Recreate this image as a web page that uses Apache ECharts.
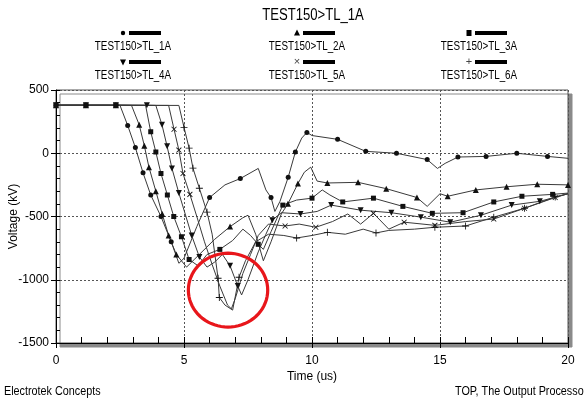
<!DOCTYPE html>
<html>
<head>
<meta charset="utf-8">
<script src="https://cdn.jsdelivr.net/npm/echarts@6/dist/echarts.min.js"></script>
<style>
  html, body { margin: 0; padding: 0; background: #fff; }
  #chart { width: 584px; height: 403px; }
</style>
</head>
<body>
<div id="chart"></div>
<script>
// tick labels
const xTicks = [0, 5, 10, 15, 20];
const yTicks = [-1500, -1000, -500, 0, 500];

const seriesNames = ['TEST150>TL_1A', 'TEST150>TL_2A', 'TEST150>TL_3A',
                     'TEST150>TL_4A', 'TEST150>TL_5A', 'TEST150>TL_6A'];

// [time (us), voltage (kV), marker?]
const curve1 = [
    [0, 380, 1], [1.17, 380, 1], [2.34, 380, 1], [2.5, 378, 0], [2.8, 220, 1], [3.1, 45, 1],
    [3.4, -155, 1], [3.7, -330, 1], [4.1, -500, 1], [4.5, -700, 1], [4.8, -870, 0],
    [5.0, -830, 0], [5.5, -580, 0], [6.0, -350, 1], [6.6, -250, 0], [7.2, -200, 1],
    [7.9, -120, 0], [8.2, -290, 0], [8.4, -350, 1], [8.55, -460, 0], [8.75, -380, 0],
    [9.07, -190, 1], [9.35, 10, 1], [9.6, 120, 0], [9.8, 165, 1], [10.0, 140, 0],
    [11.0, 110, 1], [12.1, 15, 1], [13.3, 0, 1], [14.5, -50, 1], [14.9, -120, 0],
    [15.2, -80, 0], [15.7, -30, 1], [16.8, -25, 1], [18.0, 0, 1], [19.2, -25, 1], [20, -40, 0]
];
const curve2 = [
    [0, 380, 1], [1.17, 380, 1], [2.34, 380, 1], [2.95, 378, 0], [3.25, 225, 1], [3.45, 60, 1],
    [3.63, -110, 1], [3.9, -300, 1], [4.15, -480, 1], [4.4, -650, 1], [4.7, -800, 1],
    [5.1, -900, 0], [5.4, -840, 0], [6.2, -680, 0], [6.8, -580, 1], [7.3, -510, 0],
    [7.5, -490, 0], [7.8, -640, 0], [8.1, -850, 0], [8.4, -700, 0], [8.8, -480, 0],
    [9.06, -400, 1], [9.45, -240, 1], [9.7, -150, 0], [9.95, -110, 0], [10.2, -220, 0],
    [10.6, -235, 1], [11.8, -230, 1], [12.9, -280, 1], [14.1, -350, 1], [14.5, -420, 0],
    [15.0, -320, 0], [15.3, -340, 1], [16.4, -290, 1], [17.6, -265, 1], [18.8, -245, 1], [20, -250, 1]
];
const curve3 = [
    [0, 380, 1], [1.17, 380, 1], [2.34, 380, 1], [3.5, 378, 0], [3.7, 170, 1], [3.9, 10, 1],
    [4.1, -160, 1], [4.35, -330, 1], [4.6, -500, 1], [4.9, -660, 1], [5.2, -840, 1],
    [5.55, -890, 0], [5.9, -800, 0], [6.4, -760, 1], [6.9, -690, 0], [7.3, -600, 0],
    [7.6, -650, 0], [7.9, -720, 1], [8.1, -760, 0], [8.4, -620, 0], [8.86, -410, 1],
    [9.4, -370, 0], [10.0, -355, 1], [10.4, -290, 0], [10.7, -330, 0], [11.2, -385, 1],
    [12.4, -355, 1], [13.55, -420, 1], [14.7, -475, 1], [15.9, -470, 1], [17.1, -385, 1],
    [18.2, -340, 1], [19.4, -325, 1], [20, -315, 0]
];
const curve4 = [
    [0, 380, 1], [1.17, 380, 1], [2.34, 380, 1], [3.55, 380, 1], [3.9, 378, 0], [4.14, 225, 1],
    [4.34, 55, 1], [4.53, -120, 1], [4.8, -315, 1], [5.3, -650, 1], [5.6, -820, 1],
    [5.9, -900, 0], [6.2, -860, 0], [6.5, -800, 0], [6.8, -890, 1], [7.1, -1050, 1],
    [7.25, -1120, 0], [7.5, -1000, 0], [7.9, -780, 0], [8.2, -640, 0], [8.45, -530, 1],
    [8.8, -470, 0], [9.55, -480, 1], [10.2, -460, 0], [10.75, -410, 1], [11.9, -450, 1],
    [13.1, -470, 1], [14.25, -505, 1], [15.4, -545, 1], [16.6, -490, 1], [17.8, -410, 1],
    [18.9, -380, 1], [20, -320, 0]
];
const curve5 = [
    [0, 380, 0], [4.4, 378, 0], [4.61, 190, 1], [4.8, 25, 1], [4.96, -160, 1], [5.23, -325, 1],
    [5.5, -500, 0], [5.8, -700, 0], [6.1, -880, 0], [6.4, -1050, 0], [6.7, -1200, 0],
    [6.85, -1230, 0], [7.0, -1150, 0], [7.3, -950, 0], [7.6, -800, 0], [7.9, -650, 0],
    [8.3, -560, 0], [8.95, -575, 1], [9.5, -560, 0], [10.15, -585, 1], [10.8, -540, 0],
    [11.4, -480, 0], [11.9, -560, 0], [12.4, -475, 1], [13.0, -600, 0], [13.6, -545, 1],
    [14.8, -570, 1], [16.0, -540, 0], [17.1, -520, 1], [18.3, -435, 1], [19.5, -350, 1], [20, -320, 0]
];
const curve6 = [
    [0, 380, 0], [4.8, 378, 0], [5.0, 205, 1], [5.2, 40, 1], [5.35, -118, 1], [5.6, -277, 1],
    [5.9, -466, 1], [6.1, -640, 0], [6.33, -988, 1], [6.38, -1140, 1], [6.6, -1200, 0],
    [6.9, -1240, 0], [7.15, -980, 1], [7.4, -850, 0], [7.8, -700, 0], [8.3, -640, 0],
    [8.9, -650, 0], [9.4, -670, 1], [10.0, -650, 0], [10.6, -625, 1], [11.3, -640, 0],
    [12.0, -600, 0], [12.5, -630, 1], [13.0, -610, 0], [14.0, -600, 0], [14.8, -585, 1],
    [16.0, -575, 1], [17.1, -505, 1], [18.3, -435, 1], [19.5, -345, 1], [20, -320, 0]
];
const curves = [curve1, curve2, curve3, curve4, curve5, curve6];

// red highlight: centre time, centre voltage, half width (us), half height (kV)
const circleMark = [[6.72, -1082, 1.55, 292]];

const plusPath = 'path://M4.4,0H5.6V10H4.4Z M0,4.4H10V5.6H0Z';
const markerStyles = [
    {symbol: 'circle', size: 5, rotate: 0},
    {symbol: 'triangle', size: 6, rotate: 0},
    {symbol: 'rect', size: 5, rotate: 0},
    {symbol: 'triangle', size: 6, rotate: 180},
    {symbol: plusPath, size: 7, rotate: 45},
    {symbol: plusPath, size: 7, rotate: 0}
];

function toData(points) {
    return points.map(p => p[2] ? [p[0], p[1]] : {value: [p[0], p[1]], symbol: 'none'});
}

const FONT = '"Liberation Sans", Arial, sans-serif';

const lineSeries = curves.map((c, i) => ({
    name: seriesNames[i],
    type: 'line',
    data: toData(c),
    symbol: markerStyles[i].symbol,
    symbolSize: markerStyles[i].size,
    symbolRotate: markerStyles[i].rotate,
    showSymbol: true,
    showAllSymbol: true,
    lineStyle: {color: '#3a3a3a', width: 1},
    itemStyle: {color: '#111'},
    z: 3
}));

const circleSeries = {
    type: 'custom',
    clip: false,
    z: 10,
    data: circleMark,
    renderItem: function (params, api) {
        const c = api.coord([api.value(0), api.value(1)]);
        const s = api.size([api.value(2), api.value(3)]);
        const pts = [];
        for (let k = 0; k < 72; k++) {
            const a = k / 72 * Math.PI * 2;
            pts.push([c[0] + s[0] * Math.cos(a), c[1] + s[1] * Math.sin(a)]);
        }
        return {
            type: 'polygon',
            shape: {points: pts},
            style: {fill: 'none', stroke: '#e8161b', lineWidth: 3.2}
        };
    }
};

// legend drawn by hand: symbol + bar above each name, 3 columns x 2 rows
const legendCols = [133, 307, 479];
const legendRows = [33, 62];
function legendIcon(i, x, y) {
    const st = {fill: '#000'};
    switch (i) {
        case 0: return {type: 'circle', shape: {cx: x, cy: y, r: 2.2}, style: st};
        case 1: return {type: 'polygon', shape: {points: [[x, y - 3.5], [x + 3, y + 2.5], [x - 3, y + 2.5]]}, style: st};
        case 2: return {type: 'rect', shape: {x: x - 2.5, y: y - 3, width: 5, height: 6}, style: st};
        case 3: return {type: 'polygon', shape: {points: [[x - 3, y - 2.5], [x + 3, y - 2.5], [x, y + 3.5]]}, style: st};
        case 4: return {type: 'text', x: x, y: y, style: {text: '×', fill: '#444', font: '11px ' + FONT, align: 'center', verticalAlign: 'middle'}};
        default: return {type: 'text', x: x, y: y, style: {text: '+', fill: '#444', font: '11px ' + FONT, align: 'center', verticalAlign: 'middle'}};
    }
}
const legendGraphics = [];
seriesNames.forEach((name, i) => {
    const cx = legendCols[i % 3];
    const y = legendRows[Math.floor(i / 3)];
    legendGraphics.push(legendIcon(i, cx - 10, y));
    legendGraphics.push({type: 'rect', shape: {x: cx - 4, y: y - 2, width: 32, height: 4}, style: {fill: '#000'}});
    legendGraphics.push({
        type: 'text', x: cx, y: y + 14, scaleX: 0.82,
        style: {text: name, fill: '#000', font: '12px ' + FONT, align: 'center', verticalAlign: 'middle'}
    });
});

const chart = echarts.init(document.getElementById('chart'), null, {renderer: 'canvas'});

const axisFont = {fontFamily: FONT, fontSize: 12, color: '#000'};

const option = {
    animation: false,
    backgroundColor: '#fff',
    grid: {
        left: 56, top: 90, width: 512, height: 253,
        outerBoundsMode: 'none',
        containLabel: false,
        show: true,
        backgroundColor: '#fff',
        borderColor: '#555',
        borderWidth: 1,
        shadowColor: '#8a8a8a',
        shadowBlur: 0,
        shadowOffsetX: 4,
        shadowOffsetY: 4
    },
    xAxis: [{
        type: 'value',
        min: xTicks[0], max: xTicks[xTicks.length - 1], interval: 5,
        name: 'Time (us)', nameLocation: 'middle', nameGap: 28,
        nameMoveOverlap: false,
        nameTextStyle: axisFont,
        axisLine: {show: true, onZero: false, lineStyle: {color: '#000', width: 1}},
        axisTick: {show: true, inside: false, length: 5, lineStyle: {color: '#000'}},
        axisLabel: Object.assign({margin: 12}, axisFont),
        splitLine: {show: true, lineStyle: {color: '#555', type: [2, 2], width: 1}}
    }, {
        type: 'value', position: 'bottom',
        min: xTicks[0], max: xTicks[xTicks.length - 1], interval: 1,
        axisLine: {show: false, onZero: false},
        axisTick: {show: true, inside: true, length: 6, lineStyle: {color: '#000', width: 1}},
        axisLabel: {show: false},
        splitLine: {show: false}
    }],
    yAxis: [{
        type: 'value',
        min: yTicks[0], max: yTicks[yTicks.length - 1], interval: 500,
        name: 'Voltage (kV)', nameLocation: 'middle', nameGap: 36,
        nameMoveOverlap: false,
        nameTextStyle: axisFont,
        axisLine: {show: true, onZero: false, lineStyle: {color: '#000', width: 1}},
        axisTick: {show: true, inside: false, length: 5, lineStyle: {color: '#000'}},
        axisLabel: Object.assign({margin: 7, formatter: v => String(v)}, axisFont),
        splitLine: {show: true, lineStyle: {color: '#555', type: [2, 2], width: 1}}
    }, {
        type: 'value', position: 'left',
        min: yTicks[0], max: yTicks[yTicks.length - 1], interval: 100,
        axisLine: {show: false, onZero: false},
        axisTick: {show: true, inside: true, length: 4, lineStyle: {color: '#000', width: 1}},
        axisLabel: {show: false},
        splitLine: {show: false}
    }],
    graphic: legendGraphics.concat([
        {type: 'text', x: 313, y: 16, scaleX: 0.82,
         style: {text: 'TEST150>TL_1A', fill: '#000', font: '16px ' + FONT, align: 'center', verticalAlign: 'middle'}},
        {type: 'text', x: 4, y: 392, scaleX: 0.9,
         style: {text: 'Electrotek Concepts', fill: '#000', font: '12px ' + FONT, verticalAlign: 'middle'}},
        {type: 'text', x: 455, y: 392, scaleX: 0.9,
         style: {text: 'TOP, The Output Processor', fill: '#000', font: '12px ' + FONT, verticalAlign: 'middle'}}
    ]),
    series: lineSeries.concat([circleSeries])
};

chart.setOption(option);
</script>
</body>
</html>
